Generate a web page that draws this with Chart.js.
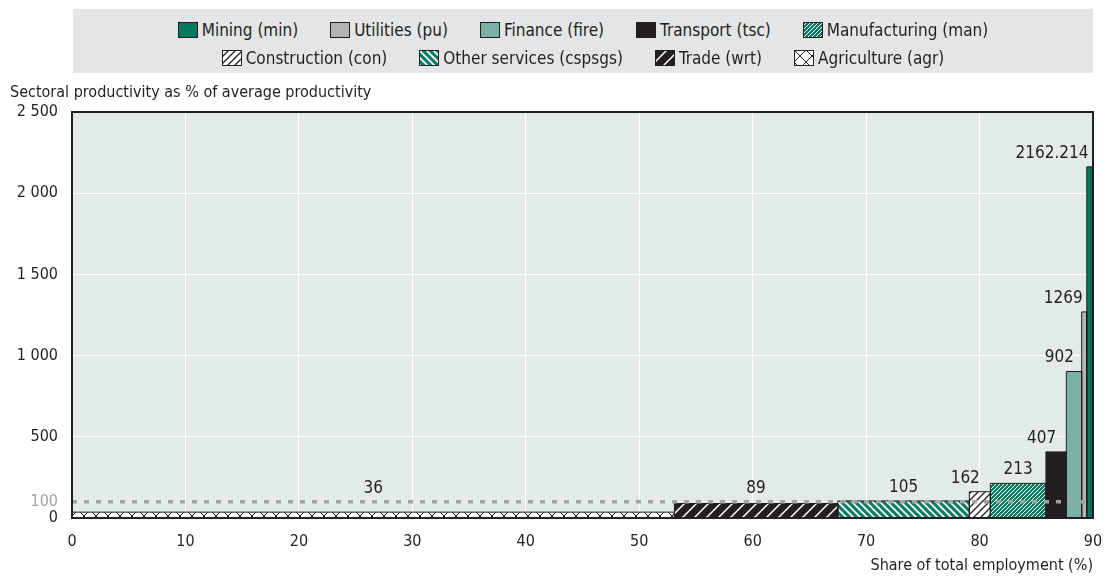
<!DOCTYPE html>
<html>
<head>
<meta charset="utf-8">
<script src="https://cdn.jsdelivr.net/npm/chart.js@4/dist/chart.umd.min.js"></script>
<style>
  body { margin: 0; background: #fff; }
  #wrap { position: relative; width: 1106px; height: 579px; }
  #myChart { position: absolute; left: 0; top: 0; }
  #legend {
    position: absolute; left: 73px; top: 9px; width: 1020px; height: 64px;
    background: #e4e5e7; font-family: 'Liberation Sans Narrow', 'DejaVu Sans Condensed', sans-serif;
    font-size: 17px; color: #231f20;
  }
  #legend .row { display: flex; justify-content: center; height: 28px; align-items: center; }
  #legend .row:first-child { margin-top: 7px; }
  #legend .item { display: flex; align-items: center; margin: 0 16px; }
  #legend canvas { margin-right: 4px; }
</style>
</head>
<body>
<div id="wrap">
  <canvas id="myChart" width="1106" height="579"></canvas>
  <div id="legend"></div>
</div>
<script>
const FONT = "'Liberation Sans Narrow', 'DejaVu Sans Condensed', sans-serif";

// sectors sorted by relative productivity
const sectors = ['Agriculture (agr)', 'Trade (wrt)', 'Other services (cspsgs)', 'Construction (con)',
  'Manufacturing (man)', 'Transport (tsc)', 'Finance (fire)', 'Utilities (pu)', 'Mining (min)'];
const employmentShare = [53.1, 14.4, 11.6, 1.85, 4.9, 1.8, 1.35, 0.45, 0.5];
const productivity = [36, 89, 105, 162, 213, 407, 902, 1269, 2162.214];
const xTicks = [0, 10, 20, 30, 40, 50, 60, 70, 80, 90];
const yTicks = [0, 100, 500, 1000, 1500, 2000, 2500];
const averageLine = 100;

// legend rows (top to bottom)
const legendRows = [
  ['Mining (min)', 'Utilities (pu)', 'Finance (fire)', 'Transport (tsc)', 'Manufacturing (man)'],
  ['Construction (con)', 'Other services (cspsgs)', 'Trade (wrt)', 'Agriculture (agr)']
];

const TEAL = '#0a7d66';

// fill styles per sector
const fills = {
  'Agriculture (agr)': { bg: '#ffffff', fg: '#231f20', kind: 'cross', size: 12, lw: 1 },
  'Trade (wrt)': { bg: '#231f20', fg: '#ffffff', kind: 'slash', size: 12, lw: 1.5 },
  'Other services (cspsgs)': { bg: TEAL, fg: '#ffffff', kind: 'back', size: 7, lw: 1.8 },
  'Construction (con)': { bg: '#ffffff', fg: '#231f20', kind: 'slash', size: 7, lw: 1.3 },
  'Manufacturing (man)': { bg: TEAL, fg: '#ffffff', kind: 'slash', size: 4, lw: 1 },
  'Transport (tsc)': { bg: '#231f20' },
  'Finance (fire)': { bg: '#7ab2a8' },
  'Utilities (pu)': { bg: '#b4b4b4' },
  'Mining (min)': { bg: '#00785f' }
};

function makeFill(ctx, f) {
  if (!f.kind) return f.bg;
  const s = f.size;
  const c = document.createElement('canvas');
  c.width = s; c.height = s;
  const g = c.getContext('2d');
  g.fillStyle = f.bg;
  g.fillRect(0, 0, s, s);
  g.strokeStyle = f.fg;
  g.lineWidth = f.lw;
  g.beginPath();
  if (f.kind === 'slash' || f.kind === 'cross') {
    g.moveTo(-1, s + 1); g.lineTo(s + 1, -1);
    g.moveTo(-1, 1); g.lineTo(1, -1);
    g.moveTo(s - 1, s + 1); g.lineTo(s + 1, s - 1);
  }
  if (f.kind === 'back' || f.kind === 'cross') {
    g.moveTo(-1, -1); g.lineTo(s + 1, s + 1);
    g.moveTo(s - 1, -1); g.lineTo(s + 1, 1);
    g.moveTo(-1, s - 1); g.lineTo(1, s + 1);
  }
  g.stroke();
  return ctx.createPattern(c, 'repeat');
}

const ctx = document.getElementById('myChart').getContext('2d');

// one closed rectangle per sector, from cumulative employment share
let start = 0;
const barSets = sectors.map((name, i) => {
  const end = start + employmentShare[i];
  const ds = {
    type: 'line',
    label: name,
    data: [{ x: start, y: 0 }, { x: start, y: productivity[i] }, { x: end, y: productivity[i] }, { x: end, y: 0 }],
    backgroundColor: makeFill(ctx, fills[name]),
    borderColor: '#231f20',
    borderWidth: 1,
    fill: 'origin',
    pointRadius: 0,
    tension: 0,
    order: 2
  };
  start = end;
  return ds;
});

const avgSet = {
  type: 'line',
  label: 'average',
  data: [{ x: 0, y: averageLine }, { x: 90, y: averageLine }],
  borderColor: '#a3a3a3',
  borderWidth: 3.5,
  borderDash: [5, 7],
  pointRadius: 0,
  fill: false,
  order: 0
};

const plotBg = {
  id: 'plotBg',
  beforeDraw(chart) {
    const a = chart.chartArea, c = chart.ctx;
    c.save();
    c.fillStyle = '#e2ebe8';
    c.fillRect(a.left, a.top, a.right - a.left, a.bottom - a.top);
    c.restore();
  },
  afterDraw(chart) {
    const a = chart.chartArea, c = chart.ctx;
    c.save();
    c.strokeStyle = '#231f20';
    c.lineWidth = 2;
    c.strokeRect(a.left, a.top, a.right - a.left, a.bottom - a.top);
    c.fillStyle = '#231f20';
    c.font = '16px ' + FONT;
    c.textAlign = 'left';
    c.textBaseline = 'middle';
    c.fillText('Sectoral productivity as % of average productivity', 10, 93);
    c.restore();
  }
};

const valueLabels = {
  id: 'valueLabels',
  afterDatasetsDraw(chart) {
    const xs = chart.scales.x, ys = chart.scales.y, c = chart.ctx;
    c.save();
    c.font = '17px ' + FONT;
    c.fillStyle = '#231f20';
    c.textBaseline = 'bottom';
    let s = 0;
    productivity.forEach((v, i) => {
      const x0 = xs.getPixelForValue(s);
      const x1 = xs.getPixelForValue(s + employmentShare[i]);
      s += employmentShare[i];
      const txt = String(v);
      const w = c.measureText(txt).width;
      const mid = (x0 + x1) / 2;
      const y = ys.getPixelForValue(Math.max(v, averageLine)) - 5;
      if (x1 - x0 < w) {
        c.textAlign = 'right';
        c.fillText(txt, Math.min(mid, x1 - 4), y);
      } else {
        c.textAlign = 'center';
        c.fillText(txt, mid, y);
      }
    });
    c.restore();
  }
};

function spaced(v) {
  return String(v).replace(/\B(?=(\d{3})+(?!\d))/g, ' ');
}

new Chart(ctx, {
  data: { datasets: [avgSet, ...barSets] },
  options: {
    responsive: false,
    animation: false,
    layout: { padding: { top: 112, right: 13, left: 0, bottom: 4 } },
    plugins: { legend: { display: false }, tooltip: { enabled: false } },
    scales: {
      x: {
        type: 'linear',
        min: 0, max: 90,
        afterBuildTicks: (scale) => { scale.ticks = xTicks.map(v => ({ value: v })); },
        afterFit: (scale) => { scale.height = 57; scale.paddingLeft = 0; scale.paddingRight = 0; },
        grid: { color: '#ffffff', lineWidth: 1, drawTicks: false },
        border: { display: false },
        ticks: { padding: 14, color: '#231f20', font: { family: FONT, size: 16 } },
        title: { display: true, text: 'Share of total employment (%)', align: 'end', color: '#231f20',
          font: { family: FONT, size: 16 }, padding: { top: 4, bottom: 0 } }
      },
      y: {
        type: 'linear',
        min: 0, max: 2500,
        afterBuildTicks: (scale) => { scale.ticks = yTicks.map(v => ({ value: v })); },
        afterFit: (scale) => { scale.width = 72; },
        grid: { color: (c) => (c.tick && c.tick.value === averageLine) ? 'rgba(0,0,0,0)' : '#ffffff',
          lineWidth: 1, drawTicks: false },
        border: { display: false },
        ticks: {
          autoSkip: false,
          padding: 14,
          color: (c) => (c.tick && c.tick.value === averageLine) ? '#a3a3a3' : '#231f20',
          font: { family: FONT, size: 16 },
          callback: (v) => spaced(v)
        }
      }
    }
  },
  plugins: [plotBg, valueLabels]
});

// legend swatches reuse the same fills
const legend = document.getElementById('legend');
legendRows.forEach(row => {
  const r = document.createElement('div');
  r.className = 'row';
  row.forEach(name => {
    const it = document.createElement('div');
    it.className = 'item';
    const sw = document.createElement('canvas');
    sw.width = 20; sw.height = 16;
    const g = sw.getContext('2d');
    g.fillStyle = makeFill(g, fills[name]);
    g.fillRect(0, 0, 20, 16);
    g.strokeStyle = '#231f20';
    g.lineWidth = 1;
    g.strokeRect(0.5, 0.5, 19, 15);
    const t = document.createElement('span');
    t.textContent = name;
    it.appendChild(sw);
    it.appendChild(t);
    r.appendChild(it);
  });
  legend.appendChild(r);
});
</script>
</body>
</html>
